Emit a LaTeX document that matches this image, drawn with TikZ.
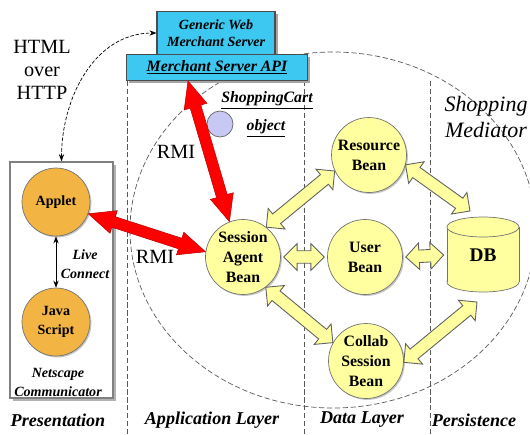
\documentclass[tikz,border=0pt]{standalone}
\usepackage{fontspec}
\setmainfont{Liberation Serif}
\usetikzlibrary{shapes.arrows,calc,shadows,arrows.meta}

\definecolor{srvcyan}{HTML}{3CC8F0}
\definecolor{beanyellow}{HTML}{FFFFA0}
\definecolor{clientorange}{HTML}{F2B544}
\definecolor{cartblue}{HTML}{C8C8F4}

% fat double arrow between two points
\newcommand{\fatlink}[3]{%
  \path let \p1=($(#3)-(#2)$), \n1={atan2(\y1,\x1)}, \n2={veclen(\x1,\y1)} in
    node[#1, rotate=\n1, minimum height=\n2] at ($(#2)!0.5!(#3)$) {};}

\begin{document}
\begin{tikzpicture}[x=0.02cm,y=-0.02cm,
  lane/.style={dash pattern=on 3pt off 1.5pt, line width=0.4pt, gray!70!black},
  srvbox/.style={draw=black!70, fill=srvcyan, line width=0.6pt, align=center,
    drop shadow={shadow xshift=1.5pt, shadow yshift=-1.5pt, fill=gray!70, opacity=1},
    font=\fontsize{8}{10}\selectfont\bfseries\itshape},
  bean/.style={circle, draw=black!55, fill=beanyellow, minimum size=1.5cm, inner sep=0pt,
    drop shadow={shadow xshift=0.8pt, shadow yshift=-0.8pt, fill=gray!45, opacity=1},
    align=center, font=\fontsize{9}{11.3}\selectfont\bfseries},
  client/.style={circle, draw=black!55, fill=clientorange, minimum size=1.36cm, inner sep=0pt,
    drop shadow={shadow xshift=0.8pt, shadow yshift=-0.8pt, fill=gray!45, opacity=1},
    align=center, font=\fontsize{8}{10.8}\selectfont\bfseries},
  yarrow/.style={double arrow, draw=gray!75!black, fill=beanyellow, line width=0.5pt,
    inner xsep=0pt, inner ysep=3.3pt, minimum width=0pt,
    double arrow head extend=4pt, double arrow tip angle=90},
  rarrow/.style={double arrow, draw=red!75!black, fill=red, line width=0.3pt,
    inner xsep=0pt, inner ysep=3pt, minimum width=0pt,
    double arrow head extend=3.6pt, double arrow tip angle=48},
  note/.style={align=center, font=\fontsize{8}{10.5}\selectfont\bfseries\itshape},
  layer/.style={font=\fontsize{10.3}{12}\selectfont\bfseries\itshape},
]
\useasboundingbox (0,0) rectangle (530,434);
\clip (0,0) rectangle (530,434);

% lanes
\draw[lane] (127,81) -- (127,434);
\draw[lane] (304,81) -- (304,434);
\draw[lane] (430,81) -- (430,434);

% shopping mediator
\draw[lane] (333,230) ellipse (203 and 178);

% servers
\node[srvbox, minimum width=2.36cm, minimum height=0.86cm] (gws) at (216,33) {Generic Web\\Merchant Server};
\node[srvbox, minimum width=3.62cm, minimum height=0.52cm, font=\fontsize{9}{10}\selectfont\bfseries\itshape] (api) at (217,67.5) {\underline{Merchant Server API}};

\node[align=center, font=\fontsize{11.5}{13}\selectfont] (html) at (42,70) {HTML\\over\\HTTP};

% client side
\node[draw=gray, line width=0.9pt, fill=white, minimum width=2.06cm, minimum height=4.72cm,
  drop shadow={shadow xshift=1.5pt, shadow yshift=-1.5pt, fill=gray!60, opacity=1}] (pres) at (61.5,280) {};
\node[client] (applet) at (56,202) {Applet};
\node[client] (js) at (56,322) {Java\\Script};
\node[note] (live) at (85,264) {Live\\Connect};
\node[note, font=\fontsize{8}{10.8}\selectfont\bfseries\itshape] (nc) at (58,382) {Netscape\\Communicator};
\draw[{Stealth[length=4pt,width=3pt]}-{Stealth[length=4pt,width=3pt]}, line width=0.5pt] (applet) -- (js);
\draw[dash pattern=on 2pt off 1pt, line width=0.4pt, {Stealth[length=4pt,width=3pt]}-{Stealth[length=4pt,width=3pt]}]
  (pres.north) to[out=90, in=180] (gws.west);

% cart
\node[circle, draw=black!60, fill=cartblue, minimum size=0.52cm, inner sep=0pt] (cart) at (220,124) {};
\node[note, font=\fontsize{9}{11}\selectfont\bfseries\itshape] (cartname) at (267,100) {\underline{ShoppingCart}};
\node[note, font=\fontsize{9}{11}\selectfont\bfseries\itshape] (cartobj) at (266,128) {\underline{object}};

\node[align=center, font=\fontsize{12.5}{15}\selectfont\itshape] (med) at (486,117) {Shopping\\Mediator};

% beans
\node[bean] (session) at (243,257) {Session\\Agent\\Bean};
\node[bean] (resource) at (369,155) {Resource\\Bean};
\node[bean] (user) at (365,257) {User\\Bean};
\node[bean] (collab) at (366,361) {Collab\\Session\\Bean};

% database
\filldraw[fill=beanyellow, draw=black!55] (483,282) ellipse (36 and 10);
\fill[beanyellow] (447,227) rectangle (519,282);
\draw[black!55] (447,227) -- (447,282) (519,227) -- (519,282);
\filldraw[fill=beanyellow, draw=black!55] (483,227) ellipse (36 and 10);
\node[minimum width=1.44cm, minimum height=1.52cm, font=\fontsize{11}{12}\selectfont\bfseries] (db) at (483,255) {DB};

\coordinate (apiport) at (188,81);
\coordinate (dbtop) at (470,211);
\coordinate (dbbot) at (477,302);

% RMI links
\fatlink{rarrow}{apiport}{session.111}
\fatlink{rarrow}{applet.-20}{session.172}
\node[font=\fontsize{11.5}{13}\selectfont] (rmia) at (176,152) {RMI};
\node[font=\fontsize{11.5}{13}\selectfont] (rmib) at (155,257) {RMI};

% bean links
\fatlink{yarrow}{session.52}{resource.205}
\fatlink{yarrow}{resource.-15}{dbtop}
\fatlink{yarrow}{$(session.east)+(3,0)$}{$(user.west)+(-3,0)$}
\fatlink{yarrow}{$(user.east)+(3,0)$}{$(db.west)+(-3,0)$}
\fatlink{yarrow}{session.-53}{collab.151}
\fatlink{yarrow}{collab.-2}{dbbot}

% layers
\node[layer] (lp) at (58,420) {Presentation};
\node[layer] (la) at (212,420) {Application Layer};
\node[layer] (ld) at (362,420) {Data Layer};
\node[layer] (lpe) at (474,420) {Persistence};
\end{tikzpicture}
\end{document}
